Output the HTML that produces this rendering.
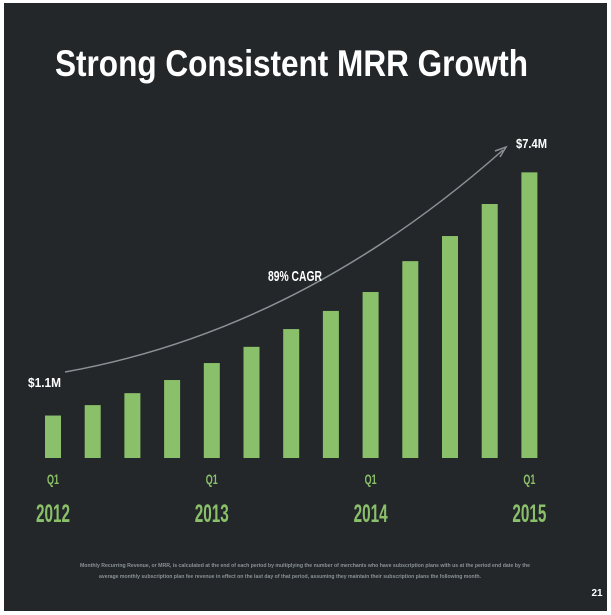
<!DOCTYPE html>
<html><head><meta charset="utf-8"><style>
body{margin:0;background:#fff;}
#wrap{position:relative;width:611px;height:615px;overflow:hidden;background:#fff;}
svg{position:absolute;left:0;top:0;}
</style></head><body>
<div id="wrap">
<svg id="chart" width="611" height="615">
<rect x="4" y="3" width="603" height="608" fill="#23272a"/>
<text x="55" y="76" fill="#fff" font-family="Liberation Sans, sans-serif" font-weight="bold" font-size="37" textLength="473" lengthAdjust="spacingAndGlyphs">Strong Consistent MRR Growth</text>
<path d="M65,372 Q300,330 503,150" fill="none" stroke="#8a9296" stroke-width="1.5"/>
<path d="M495,151 L506,147 L500,157" fill="none" stroke="#8a9296" stroke-width="1.5"/>
<text x="268" y="281" fill="#fff" font-family="Liberation Sans, sans-serif" font-weight="bold" font-size="15" textLength="54" lengthAdjust="spacingAndGlyphs">89% CAGR</text>
<text x="28" y="387" fill="#fff" font-family="Liberation Sans, sans-serif" font-weight="bold" font-size="13" textLength="33" lengthAdjust="spacingAndGlyphs">$1.1M</text>
<text x="516" y="148" fill="#fff" font-family="Liberation Sans, sans-serif" font-weight="bold" font-size="13" textLength="31" lengthAdjust="spacingAndGlyphs">$7.4M</text>
<g id="bars"></g>
<g id="xlabels"></g>
<text x="305" y="567" text-anchor="middle" fill="#8a9296" font-family="Liberation Sans, sans-serif" font-weight="bold" font-size="5.3" textLength="450" lengthAdjust="spacingAndGlyphs">Monthly Recurring Revenue, or MRR, is calculated at the end of each period by multiplying the number of merchants who have subscription plans with us at the period end date by the</text>
<text x="290" y="578" text-anchor="middle" fill="#8a9296" font-family="Liberation Sans, sans-serif" font-weight="bold" font-size="5.3" textLength="382" lengthAdjust="spacingAndGlyphs">average monthly subscription plan fee revenue in effect on the last day of that period, assuming they maintain their subscription plans the following month.</text>
<text x="597" y="596" text-anchor="middle" fill="#fff" font-family="Liberation Sans, sans-serif" font-weight="bold" font-size="10">21</text>
</svg>
</div>
<script>
const quarters=["Q1 2012","Q2 2012","Q3 2012","Q4 2012","Q1 2013","Q2 2013","Q3 2013","Q4 2013","Q1 2014","Q2 2014","Q3 2014","Q4 2014","Q1 2015"];
const mrr=[1.1,1.37,1.68,2.02,2.46,2.88,3.34,3.81,4.3,5.1,5.75,6.58,7.4];
const qLabels=["Q1","Q1","Q1","Q1"];
const yearLabels=["2012","2013","2014","2015"];
const yearIdx=[0,4,8,12];
const ns="http://www.w3.org/2000/svg";
const x0=45,step=39.7,bw=16,base=458,pxPerM=38.6;
const xs=i=>x0+i*step;
const ys=v=>base-v*pxPerM;
const bars=document.getElementById('bars');
mrr.forEach((v,i)=>{
 const r=document.createElementNS(ns,'rect');
 r.setAttribute('x',xs(i));r.setAttribute('y',ys(v));
 r.setAttribute('width',bw);r.setAttribute('height',base-ys(v));
 r.setAttribute('fill','#8bc06a');
 
 
 bars.appendChild(r);
});
const xl=document.getElementById('xlabels');
yearIdx.forEach((idx,k)=>{
 const cx=xs(idx)+bw/2;
 const q=document.createElementNS(ns,'text');
 q.setAttribute('x',cx);q.setAttribute('y',484);q.setAttribute('text-anchor','middle');
 q.setAttribute('fill','#8bc06a');q.setAttribute('font-family','Liberation Sans, sans-serif');
 q.setAttribute('font-weight','bold');q.setAttribute('font-size','14');
 q.setAttribute('textLength','12');q.setAttribute('lengthAdjust','spacingAndGlyphs');
 q.textContent=qLabels[k];
 
 
 xl.appendChild(q);
 const y=document.createElementNS(ns,'text');
 y.setAttribute('x',cx);y.setAttribute('y',522);y.setAttribute('text-anchor','middle');
 y.setAttribute('fill','#8bc06a');y.setAttribute('font-family','Liberation Sans, sans-serif');
 y.setAttribute('font-weight','bold');y.setAttribute('font-size','25');
 y.setAttribute('textLength','34');y.setAttribute('lengthAdjust','spacingAndGlyphs');
 y.textContent=yearLabels[k];
 
 
 xl.appendChild(y);
});
</script>
</body></html>
